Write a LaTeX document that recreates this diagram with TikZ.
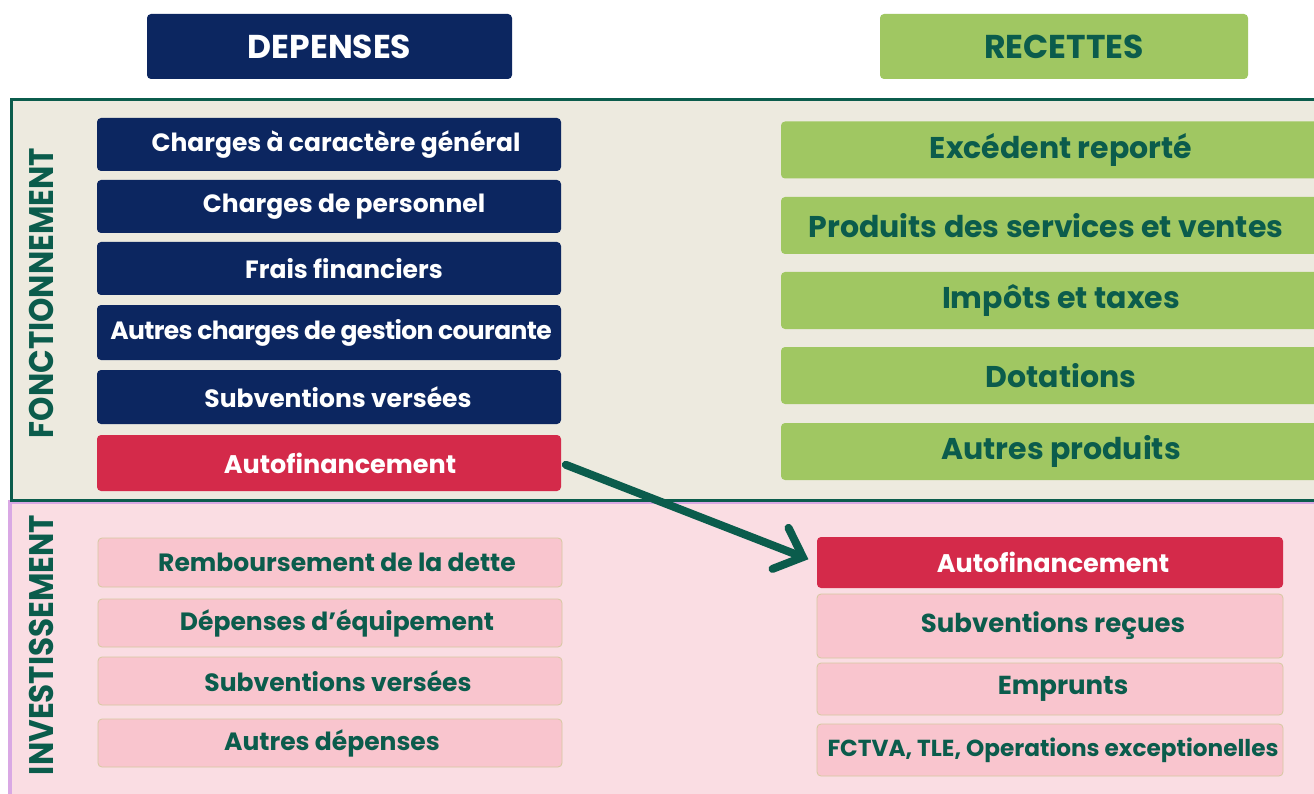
\documentclass[tikz,border=0pt]{standalone}
\usepackage{fontspec}
\setmainfont{Poppins}
\usetikzlibrary{arrows.meta}
\definecolor{navy}{HTML}{0C2660}
\definecolor{redbox}{HTML}{D42A4A}
\definecolor{greenbox}{HTML}{A0C762}
\definecolor{dkgreen}{HTML}{0B5C4C}
\definecolor{beige}{HTML}{EDEADF}
\definecolor{pinkbg}{HTML}{FADDE3}
\definecolor{pinkbox}{HTML}{F9C5CE}
\definecolor{tanline}{HTML}{D6C9A0}
\definecolor{lilac}{HTML}{D9A8E4}
\newfontfamily\tightfont{Poppins}[LetterSpace=-2.5]
\begin{document}
\begin{tikzpicture}[x=1pt,y=-1pt,
  box/.style={rectangle,rounded corners=4pt,inner sep=0pt,font=\bfseries\fontsize{25}{29}\selectfont},
  navybox/.style={box,fill=navy,text=white,minimum width=464pt},
  redb/.style={box,fill=redbox,text=white},
  pinkl/.style={box,fill=pinkbox,draw=tanline,line width=0.8pt,text=dkgreen,minimum width=464pt,minimum height=48pt},
  greenb/.style={box,fill=greenbox,text=dkgreen,minimum width=560pt,minimum height=57pt,font=\bfseries\fontsize{30}{34}\selectfont},
  pinkr/.style={box,fill=pinkbox,draw=tanline,line width=0.8pt,text=dkgreen,minimum width=466pt,font=\bfseries\fontsize{26}{30}\selectfont},
  header/.style={box,minimum height=65pt,font=\bfseries\fontsize{33}{37}\selectfont},
  sidelabel/.style={rotate=90,text=dkgreen,font=\bfseries\fontsize{31}{34}\selectfont,inner sep=0pt}]
\clip (0,0) rectangle (1314,794);
\fill[white] (0,0) rectangle (1314,794);
% panels
\fill[pinkbg] (10,502) rectangle (1330,800);
\draw[lilac,line width=4pt] (10,800) -- (10,502) -- (1330,502);
\draw[fill=beige,draw=dkgreen,line width=3pt] (11,100) rectangle (1330,500);
% headers
\node[header,fill=navy,text=white,minimum width=365pt] (dep) at (329.5,46.5) {DEPENSES};
\node[header,fill=greenbox,text=dkgreen,minimum width=368pt] (rec) at (1064,46.5) {RECETTES};
% side labels
\node[sidelabel] (fonc) at (41,293) {\scalebox{1}[1.1]{FONCTIONNEMENT}};
\node[sidelabel] (inv) at (41,645) {\scalebox{1}[1.1]{INVESTISSEMENT}};
% left fonctionnement
\node[navybox,minimum height=53pt] (f1) at (329,144.5) {\hspace{14pt}Charges à caractère général};
\node[navybox,minimum height=53pt] (f2) at (329,206.5) {\hspace{30pt}Charges de personnel};
\node[navybox,minimum height=53pt] (f3) at (329,268.5) {\hspace{30pt}Frais financiers};
\node[navybox,minimum height=55pt] (f4) at (329,332.5) {\tightfont\bfseries\fontsize{25}{29}\selectfont\hspace{4pt}Autres charges de gestion courante};
\node[navybox,minimum height=54pt] (f5) at (329,397) {\hspace{18pt}Subventions versées};
\node[redb,minimum width=464pt,minimum height=56pt,font=\bfseries\fontsize{25.5}{29}\selectfont] (af1) at (329,463) {\hspace{22pt}Autofinancement};
% right fonctionnement
\node[greenb] (r1) at (1061,150) {Excédent reporté};
\node[greenb] (r2) at (1061,225.5) {\hspace{-30pt}Produits des services et ventes};
\node[greenb] (r3) at (1061,300.5) {Impôts et taxes};
\node[greenb] (r4) at (1061,375.5) {Dotations};
\node[greenb] (r5) at (1061,451.5) {Autres produits};
% left investissement
\node[pinkl,minimum height=49pt] (i1) at (330,562.5) {\hspace{14pt}Remboursement de la dette};
\node[pinkl] (i2) at (330,623) {\hspace{14pt}Dépenses d’équipement};
\node[pinkl] (i3) at (330,681) {\hspace{16pt}Subventions versées};
\node[pinkl] (i4) at (330,743) {\hspace{4pt}Autres dépenses};
% right investissement
\node[redb,minimum width=466pt,minimum height=51pt,font=\bfseries\fontsize{25.5}{29}\selectfont] (af2) at (1050,562.5) {\hspace{6pt}Autofinancement};
\node[pinkr,minimum height=64pt] (j1) at (1050,626) {\hspace{6pt}Subventions reçues};
\node[pinkr,minimum height=52pt] (j2) at (1050,689) {\hspace{26pt}Emprunts};
\node[pinkr,minimum height=52pt,font=\bfseries\fontsize{23.2}{27}\selectfont] (j3) at (1050,750) {\hspace{6pt}FCTVA, TLE, Operations exceptionelles};
% arrow
\draw[dkgreen,line width=8pt,line cap=round,shorten <=5pt,shorten >=9pt,
  -{Straight Barb[length=24pt,width=44pt,line cap=round]}] (af1.east) -- (af2.west);
\end{tikzpicture}
\end{document}
